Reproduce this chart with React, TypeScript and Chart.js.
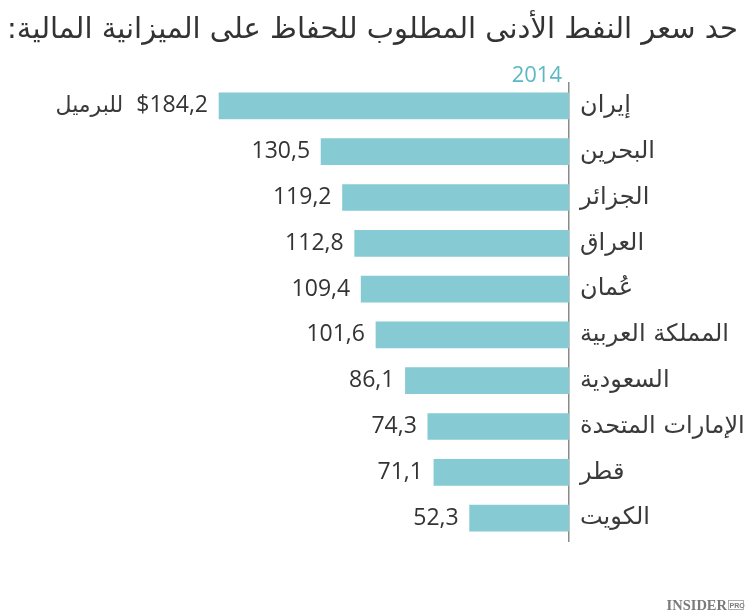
import React, { useEffect, useRef } from "react";
import { Chart, registerables } from "chart.js";

Chart.register(...registerables);

const TITLE = "حد سعر النفط الأدنى المطلوب للحفاظ على الميزانية المالية:";
const YEAR_LABEL = "2014";
const UNIT_LABEL = "للبرميل";
const countries = [
  "إيران",
  "البحرين",
  "الجزائر",
  "العراق",
  "عُمان",
  "المملكة العربية",
  "السعودية",
  "الإمارات المتحدة",
  "قطر",
  "الكويت",
];
const prices = [184.2, 130.5, 119.2, 112.8, 109.4, 101.6, 86.1, 74.3, 71.1, 52.3];

const FONT = "'DejaVu Sans', 'Noto Sans', sans-serif";
const NUM_FONT = "'Open Sans', 'DejaVu Sans', sans-serif";
const TEXT = "#333333";
const LABEL = "#3a3a3a";
const BAR = "#86CAD3";
const TEAL = "#5BB8C4";

const fmt = (v: number) => v.toFixed(1).replace(".", ",");

const overlay = {
  id: "overlay",
  afterDatasetsDraw(chart: any) {
    const { ctx, chartArea } = chart;
    const meta = chart.getDatasetMeta(0);
    ctx.save();
    ctx.fillStyle = TEXT;
    ctx.textBaseline = "middle";
    ctx.textAlign = "right";
    meta.data.forEach((bar: any, i: number) => {
      const v = prices[i];
      const txt = i === 0 ? "$" + fmt(v) : fmt(v);
      ctx.font = `23px ${NUM_FONT}`;
      ctx.fillText(txt, bar.x - 11, bar.y);
      if (i === 0) {
        const w = ctx.measureText(txt).width;
        ctx.font = `22px ${FONT}`;
        ctx.fillStyle = LABEL;
        ctx.fillText(UNIT_LABEL, bar.x - 11 - w - 13, bar.y);
        ctx.fillStyle = TEXT;
      }
    });
    // title
    ctx.font = `29px ${FONT}`;
    ctx.direction = "rtl";
    ctx.textAlign = "right";
    ctx.textBaseline = "middle";
    ctx.fillStyle = TEXT;
    ctx.fillText(TITLE, 738, 30);
    ctx.direction = "ltr";
    // year
    ctx.fillStyle = TEAL;
    ctx.font = `22px ${NUM_FONT}`;
    ctx.textAlign = "right";
    ctx.textBaseline = "alphabetic";
    ctx.fillText(YEAR_LABEL, chartArea.right - 7, 82);
    // logo
    ctx.fillStyle = "#7a7a7a";
    ctx.font = `bold 14.5px 'Liberation Serif', serif`;
    ctx.textAlign = "right";
    ctx.fillText("INSIDER", 727, 610);
    ctx.font = `bold 7px 'Liberation Sans', sans-serif`;
    ctx.textAlign = "left";
    ctx.fillText("PRO", 729.5, 608);
    ctx.strokeStyle = "#9a9a9a";
    ctx.lineWidth = 0.8;
    ctx.strokeRect(728.5, 600.5, 15, 9);
    ctx.restore();
  },
};

export default function App() {
  const ref = useRef<HTMLCanvasElement | null>(null);
  useEffect(() => {
    if (!ref.current) return;
    const chart = new Chart(ref.current, {
      type: "bar",
      data: {
        labels: countries,
        datasets: [
          {
            data: prices,
            backgroundColor: BAR,
            barThickness: 26,
            borderWidth: 0,
          },
        ],
      },
      options: {
        indexAxis: "y",
        animation: false,
        responsive: true,
        maintainAspectRatio: false,
        layout: { padding: { left: 37, top: 83, bottom: 72, right: 0 } },
        plugins: {
          legend: { display: false },
          tooltip: { enabled: false },
          title: { display: false },
        },
        scales: {
          x: {
            display: false,
            reverse: true,
            min: 0,
            max: 280,
          },
          y: {
            position: "right",
            grid: { display: false, drawTicks: false },
            border: { display: true, color: "#8a8a8a", width: 1.5 },
            ticks: {
              padding: 11,
              color: LABEL,
              font: { family: FONT, size: 24 },
            },
            afterFit: (scale: any) => {
              scale.width = 181;
            },
          },
        },
      },
      plugins: [overlay],
    });
    return () => chart.destroy();
  }, []);
  return (
    <div style={{ position: "fixed", left: 0, top: 0, width: 750, height: 613, background: "#fff" }}>
      <canvas ref={ref} />
    </div>
  );
}
